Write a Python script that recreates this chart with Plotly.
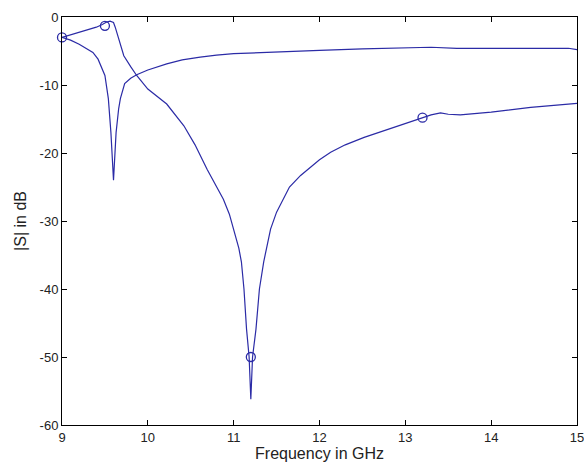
import plotly.graph_objects as go

# Curve 1: dip at 9.6 GHz, flat near -5 dB
f1 = [9.0, 9.1, 9.2, 9.3, 9.36, 9.42, 9.47, 9.5, 9.54, 9.57, 9.6, 9.63, 9.66, 9.68, 9.73,
      9.8, 9.87, 10.0, 10.22, 10.4, 10.61, 10.8, 11.0, 11.5, 12.0, 12.5, 12.8, 13.0, 13.3,
      13.6, 14.0, 14.5, 14.9, 15.0]
s1 = [-3.0, -3.4, -4.0, -4.7, -5.2, -6.2, -7.6, -8.6, -12.0, -17.0, -24.0, -17.0, -13.5, -12.0, -9.8,
      -9.0, -8.5, -7.8, -6.9, -6.3, -5.9, -5.6, -5.4, -5.1, -4.9, -4.7, -4.6, -4.55, -4.45,
      -4.6, -4.6, -4.6, -4.6, -4.8]

# Curve 2: peak near 9.55 GHz, deep dip at 11.2 GHz
f2 = [9.0, 9.1, 9.2, 9.3, 9.4, 9.47, 9.52, 9.56, 9.6, 9.62, 9.64, 9.68, 9.72, 9.8, 9.87,
      10.0, 10.22, 10.42, 10.55, 10.69, 10.8, 10.88, 10.95, 11.0, 11.06, 11.09, 11.12, 11.15,
      11.18, 11.2, 11.22, 11.26, 11.3, 11.35, 11.43, 11.5, 11.54, 11.65, 11.78, 12.0, 12.13,
      12.3, 12.52, 12.71, 12.9, 13.05, 13.19, 13.3, 13.41, 13.5, 13.64, 14.0, 14.46, 14.8, 15.0]
s2 = [-3.0, -2.6, -2.25, -1.9, -1.5, -1.1, -0.75, -0.6, -0.8, -1.5, -2.3, -4.0, -5.7, -7.3, -8.6,
      -10.6, -12.8, -16.0, -18.8, -22.4, -25.0, -26.8, -29.0, -31.2, -34.0, -36.0, -40.0, -45.9,
      -50.0, -56.2, -50.0, -45.9, -40.0, -36.0, -31.2, -28.7, -27.7, -25.0, -23.3, -21.0, -19.9,
      -18.8, -17.7, -16.9, -16.0, -15.4, -14.8, -14.4, -14.1, -14.3, -14.4, -14.0, -13.3, -12.9, -12.7]

# Circle markers
fm = [9.0, 9.5, 11.2, 13.2]
sm = [-3.0, -1.3, -50.0, -14.8]

xticks = [9, 10, 11, 12, 13, 14, 15]
yticks = [0, -10, -20, -30, -40, -50, -60]

color = "#2b2ba6"

fig = go.Figure()
fig.add_trace(go.Scatter(x=f1, y=s1, mode="lines", line=dict(color=color, width=1.2),
                         showlegend=False, hoverinfo="skip"))
fig.add_trace(go.Scatter(x=f2, y=s2, mode="lines", line=dict(color=color, width=1.2),
                         showlegend=False, hoverinfo="skip"))
fig.add_trace(go.Scatter(x=fm, y=sm, mode="markers",
                         marker=dict(symbol="circle-open", size=9, color=color,
                                     line=dict(width=1.3, color=color)),
                         showlegend=False, hoverinfo="skip", cliponaxis=False))

font = dict(family="Liberation Sans, Arial, sans-serif", size=13, color="#222222")

fig.update_layout(
    width=584, height=464,
    margin=dict(l=62, r=7, t=17, b=39),
    paper_bgcolor="white", plot_bgcolor="white",
    font=font,
    xaxis=dict(range=[9, 15], tickvals=xticks, ticktext=[str(v) for v in xticks],
               ticks="inside", ticklen=5, tickcolor="black", showline=True,
               linecolor="black", linewidth=1, mirror="ticks", showgrid=False,
               zeroline=False, automargin=False, ticklabeloverflow="allow",
               title=dict(text="Frequency in GHz", standoff=0),
               tickfont=font),
    yaxis=dict(range=[-60, 0], tickvals=yticks, ticktext=[str(v) for v in yticks],
               ticks="inside", ticklen=5, tickcolor="black", showline=True,
               linecolor="black", linewidth=1, mirror="ticks", showgrid=False,
               zeroline=False, automargin=False, ticklabeloverflow="allow",
               title=dict(text="|S| in dB", standoff=9),
               tickfont=font),
)

post = ("document.documentElement.style.margin='0';document.body.style.margin='0';"
        "document.body.style.padding='0';document.documentElement.style.overflow='hidden';"
        "document.body.style.overflow='hidden';")
fig.write_html("out.html", post_script=post, config={"displayModeBar": False})
